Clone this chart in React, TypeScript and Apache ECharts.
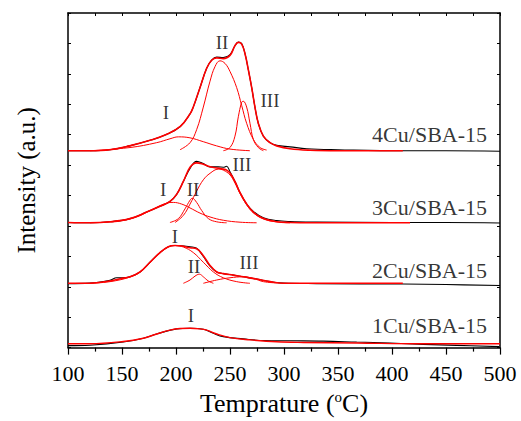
import React, { useEffect, useRef } from "react";
import * as echarts from "echarts";

// Intensity values in arbitrary units (stacked offsets included)
const black4: number[][] = [[100,203],[120,203],[139,204],[157,208],[176,213.7],[191,219.7],[204,228],[213,241],[216,248],[222.2,268],[228.4,288],[233,296.3],[237.7,299.5],[243.8,299],[250,302],[254.6,311.3],[257.7,315],[260.8,313.5],[263.9,303],[267,286.3],[270.1,268],[273.1,248],[276.2,231.3],[280.9,218],[287,211.3],[293.2,208.5],[305.6,207],[321,205],[350,204],[410,203],[450,203],[500,202.5]];
const fit4: number[][] = [[100,203],[120,203],[139,204],[157,208],[176,213.7],[191,219.7],[204,228],[213,241],[216,248],[222.2,268],[228.4,288],[233,296.3],[237.7,298.7],[243.8,298],[250,301.3],[254.6,311.3],[257.7,314.7],[260.8,313],[263.9,303],[267,286.3],[270.1,268],[273.1,248],[276.2,231.3],[280.9,218],[287,211.3],[293.2,208],[305.6,205],[324,203.5],[350,203],[410,203]];
const peak4I: number[][] = [[120.4,203],[157.4,206.3],[182.1,211.3],[194.4,215.3],[202.2,217.3],[212.9,216.3],[225.3,212.3],[237.6,208],[250,204.7],[268.5,203]];
const peak4II: number[][] = [[203.7,204],[213,211.3],[219.1,224.7],[225.3,248],[231.5,274.7],[236.1,289.7],[240.7,295.7],[245.4,293],[250,284.7],[256.2,268],[260.8,249.7],[265.4,231.3],[271.6,214.7],[277.8,206.3],[283.9,203.7]];
const peak4III: number[][] = [[243.8,203],[250,206.3],[254.6,218],[257.7,238],[260.8,253],[262.3,254],[265.4,248],[268.5,231.3],[271.6,214.7],[276.2,206.3],[280.9,203]];

const black3: number[][] = [[100,129],[120.4,128.7],[138.9,129.7],[157.4,133],[172.8,139.7],[185.2,145.7],[194.4,150.7],[200.6,158],[206.8,171.3],[213,184.7],[219.1,192],[225.3,189.7],[231.5,186.3],[239.2,186.3],[243.8,186],[246.9,187],[250,181.3],[254.6,171.3],[259.3,159.7],[265.4,148],[271.6,140.5],[280.9,134],[293.2,131],[305.6,130],[330,129.5],[400,129],[450,129],[500,128.5]];
const fit3: number[][] = [[100,129],[120.4,128.7],[138.9,129.7],[157.4,133],[172.8,139.7],[185.2,145.7],[194.4,150.7],[200.6,158],[206.8,171.3],[213,186],[219.1,190.5],[225.3,189],[231.5,186.5],[239.2,185],[243.8,184],[246.9,183],[250,180],[254.6,171.3],[259.3,159.7],[265.4,148],[271.6,139.7],[280.9,133],[293.2,129.7],[305.6,129],[324.1,128.7],[416.7,128.7]];
const peak3I: number[][] = [[120.4,128.7],[145.1,130.3],[163.6,134.7],[179,143],[191.4,149],[197.5,149.7],[205.2,148],[213,144],[222.2,138.7],[231.5,134.7],[243.8,131.3],[259.3,129.3],[274.7,128.7]];
const peak3II: number[][] = [[194.4,129],[202.2,133],[208.3,143],[213,152],[215.1,154],[219.1,149.7],[223.8,141.3],[230,133],[237.7,129.7],[246.9,128.7]];
const peak3III: number[][] = [[199.1,129],[206.8,136.3],[213,148],[219.1,161.3],[225.3,173],[231.5,179.7],[239.2,184],[243.8,183],[250,178],[254.6,169.7],[259.3,158.7],[265.4,147.3],[271.6,139],[280.9,132.7],[293.2,129.7],[305.6,128.7]];

const black2: number[][] = [[100,66],[120.4,66.5],[138.9,69.5],[145,72],[150,72],[157.4,73],[166.7,78],[175.9,88],[185.2,98],[192.9,104],[199.1,105.3],[205.2,105],[213,104],[219.1,102.5],[225.3,94],[231.5,84],[237.7,78],[243.8,76.3],[253.1,74.7],[262.3,73],[274.7,70.7],[287,68],[299.4,66.5],[330,66],[410,65.5],[450,65],[500,64]];
const fit2: number[][] = [[100,66.3],[120.4,66.3],[138.9,68.7],[148.1,71],[157.4,73],[166.7,78],[175.9,88],[185.2,98],[192.9,104],[199.1,105.3],[205.2,104.7],[213,103],[219.1,102],[225.3,94.7],[231.5,84.7],[237.7,78],[243.8,76.3],[253.1,74.7],[262.3,73],[274.7,70.7],[287,68],[299.4,66.3],[410,66.3]];
const peak2I: number[][] = [[120.4,66.3],[138.9,68],[157.4,72.7],[166.7,77.7],[175.9,87.7],[185.2,97.7],[192.9,103.7],[199.1,105.3],[206.8,103.7],[216,98],[225.3,88],[234.6,78],[243.8,72],[256.2,68],[268.5,66.3]];
const peak2II: number[][] = [[206.8,66.3],[213,69.7],[217.6,73.7],[221.6,75.7],[225.3,73],[229.9,68.7],[234.6,66.3]];
const peak2III: number[][] = [[225.3,66.3],[237.7,69.7],[250,72],[262.3,73],[271.6,71.3],[280.9,68],[293.2,66.7]];

const black1: number[][] = [[100,2],[120.4,2.5],[151.2,5.7],[169.8,9.7],[182.1,14],[200.6,19.3],[213,20],[225.3,19],[234.6,14.7],[243.8,11.3],[262.3,9],[280.9,7.3],[305.6,7],[336.4,6.7],[367.3,5.7],[398.1,4.7],[429,3.3],[459.9,2.3],[499.4,1]];
const fit1: number[][] = [[100,4],[120.4,4],[151.2,6.3],[169.8,9.7],[182.1,14],[194.4,18],[203.7,19.7],[213,20],[222.2,19.3],[228.4,18],[237.7,14],[250,10.3],[268.5,8],[293.2,6],[317.9,5.3],[367.3,4.7],[429,4],[500,4]];

const annotations: (number | string)[][] = [
  [190.7, 242, "I"], [242.6, 315, "II"], [287, 255, "III"],
  [188, 163, "I"], [215.7, 163, "II"], [261, 189, "III"],
  [199, 115, "I"], [216.7, 84, "II"], [267.6, 88, "III"],
  [213.9, 33, "I"],
];
const sampleLabels: (number | string)[][] = [
  [488, 220, "4Cu/SBA-15"], [488, 144, "3Cu/SBA-15"], [488, 79, "2Cu/SBA-15"], [488, 23, "1Cu/SBA-15"],
];

const xTicks = { min: 100, max: 500, interval: 50 };
const yMax = 345;

const FONT = "Liberation Serif";

export default function App() {
  const ref = useRef<HTMLDivElement>(null);
  useEffect(() => {
    document.body.style.margin = "0";
    const chart = echarts.init(ref.current!, null, { renderer: "svg" });
    const line = (data: number[][], color: string, width: number, z = 2) => ({
      type: "line", data, smooth: 0.4, symbol: "none", z,
      lineStyle: { color, width }, silent: true,
    });
    const axisLine = { show: true, onZero: false, lineStyle: { color: "#000", width: 1.5 } };
    chart.setOption({
      animation: false,
      grid: { left: 68, right: 21, top: 13, bottom: 63 },
      xAxis: [
        {
          type: "value", min: xTicks.min, max: xTicks.max, interval: xTicks.interval,
          position: "bottom", axisLine,
          axisTick: { show: true, inside: false, length: 7, lineStyle: { color: "#000", width: 1.2 } },
          minorTick: { show: true, splitNumber: 2, length: 4, lineStyle: { color: "#000", width: 1.2 } },
          splitLine: { show: false },
          axisLabel: { color: "#000", fontFamily: FONT, fontSize: 22, margin: 15 },
          name: "Temprature ({sup|o}C)", nameLocation: "middle", nameGap: 35,
          nameTextStyle: {
            color: "#000", fontFamily: FONT, fontSize: 26,
            rich: { sup: { fontFamily: FONT, fontSize: 15, color: "#000", padding: [0, 0, 12, 0] } },
          },
        },
        {
          type: "value", min: 100, max: 500, interval: 25, position: "top", axisLine,
          axisTick: { show: true, inside: true, length: 3, lineStyle: { color: "#000" } },
          axisLabel: { show: false }, splitLine: { show: false },
        },
      ],
      yAxis: [
        {
          type: "value", min: 0, max: yMax, interval: yMax / 11, position: "left", axisLine,
          axisTick: { show: true, inside: true, length: 3, lineStyle: { color: "#000" } },
          axisLabel: { show: false }, splitLine: { show: false },
          name: "Intensity (a.u.)", nameLocation: "middle", nameGap: 29,
          nameTextStyle: { color: "#000", fontFamily: FONT, fontSize: 25 },
        },
        {
          type: "value", min: 0, max: yMax, interval: yMax / 11, position: "right", axisLine,
          axisTick: { show: true, inside: true, length: 3, lineStyle: { color: "#000" } },
          axisLabel: { show: false }, splitLine: { show: false },
        },
      ],
      series: [
        line(black4, "#000", 1.1), line(black3, "#000", 1.1), line(black2, "#000", 1.1), line(black1, "#000", 1.1),
        line(peak4I, "#ff0000", 1, 3), line(peak4II, "#ff0000", 1, 3), line(peak4III, "#ff0000", 1, 3),
        line(peak3I, "#ff0000", 1, 3), line(peak3II, "#ff0000", 1, 3), line(peak3III, "#ff0000", 1, 3),
        line(peak2I, "#ff0000", 1, 3), line(peak2II, "#ff0000", 1, 3), line(peak2III, "#ff0000", 1, 3),
        line(fit4, "#ff0000", 1.6, 4), line(fit3, "#ff0000", 1.6, 4), line(fit2, "#ff0000", 1.6, 4), line(fit1, "#ff0000", 1.4, 4),
        {
          type: "scatter", data: annotations, symbolSize: 0, silent: true, z: 5,
          label: {
            show: true, position: [0, 0], align: "center", verticalAlign: "middle",
            formatter: (p: any) => p.data[2], color: "#000", fontFamily: FONT, fontSize: 19,
          },
        },
        {
          type: "scatter", data: sampleLabels, symbolSize: 0, silent: true, z: 5,
          label: {
            show: true, position: [0, 0], align: "right", verticalAlign: "middle",
            formatter: (p: any) => p.data[2], color: "#000", fontFamily: FONT, fontSize: 22,
          },
        },
      ],
    });
    return () => chart.dispose();
  }, []);
  return <div ref={ref} style={{ width: 521, height: 421 }} />;
}
